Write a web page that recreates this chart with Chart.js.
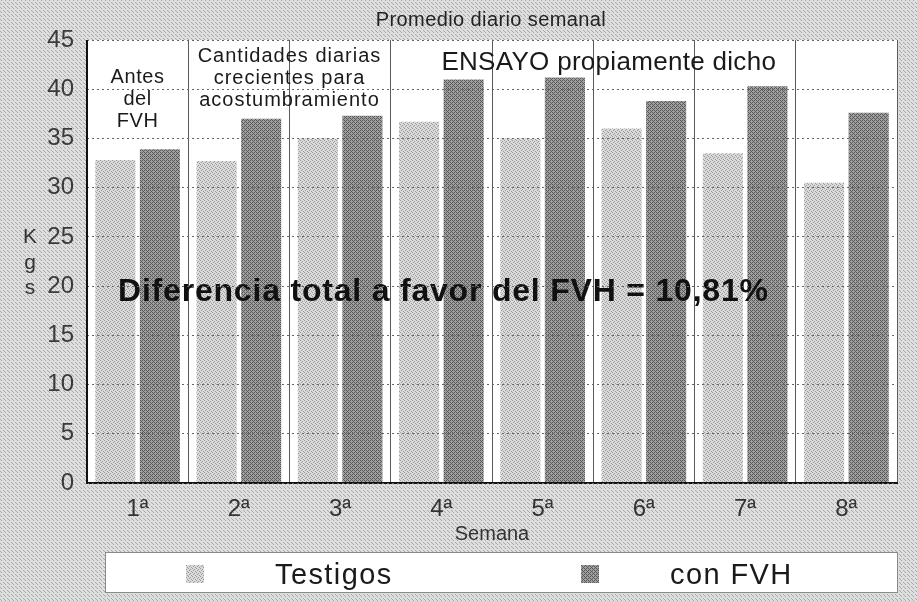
<!DOCTYPE html>
<html lang="es">
<head>
<meta charset="utf-8">
<title>Promedio diario semanal</title>
<script src="https://cdn.jsdelivr.net/npm/chart.js@4.4.1/dist/chart.umd.min.js"></script>
<style>
  html, body { margin: 0; padding: 0; background: #d4d4d4; }
  #wrap { position: relative; width: 917px; height: 601px; }
</style>
</head>
<body>
<div id="wrap"><canvas id="grafico"></canvas></div>
<script>
// Datos (kg, promedio diario por semana)
const semanas = ['1ª', '2ª', '3ª', '4ª', '5ª', '6ª', '7ª', '8ª'];
const testigos = [32.8, 32.7, 35.0, 36.7, 35.0, 36.0, 33.5, 30.5];
const conFVH = [33.9, 37.0, 37.3, 41.0, 41.2, 38.8, 40.3, 37.6];
const kgTicks = [0, 5, 10, 15, 20, 25, 30, 35, 40, 45];

const FUENTE = '"Liberation Sans", Arial, sans-serif';
Chart.defaults.font.family = FUENTE;

// tramas tipo fotocopia
function trama(base, punto, celdas) {
    const c = document.createElement('canvas');
    c.width = 4; c.height = 4;
    const g = c.getContext('2d');
    g.fillStyle = base;
    g.fillRect(0, 0, 4, 4);
    g.fillStyle = punto;
    celdas.forEach(([x, y]) => g.fillRect(x, y, 1, 1));
    return g.createPattern(c, 'repeat');
}
const tramaTestigos = trama('#dadada', '#9a9a9a', [[0, 0], [2, 1], [1, 2], [3, 3]]);
const tramaFVH = trama('#a0a0a0', '#585858', [[0, 0], [1, 1], [2, 2], [3, 3], [2, 0], [0, 2]]);
const tramaFondo = trama('#dedede', '#a8a8a8', [[1, 0], [3, 2], [0, 3]]);

const decoracion = {
    id: 'decoracion',
    beforeDraw(chart) {
        const { ctx, chartArea: a, width, height } = chart;
        ctx.save();
        ctx.fillStyle = tramaFondo;
        ctx.fillRect(0, 0, width, height);
        ctx.fillStyle = '#ffffff';
        ctx.fillRect(a.left, a.top, a.right - a.left, a.bottom - a.top);
        ctx.restore();
    },
    afterDatasetsDraw(chart) {
        const { ctx, chartArea: a, scales: { x } } = chart;
        ctx.save();
        ctx.fillStyle = '#1a1a1a';
        ctx.textBaseline = 'alphabetic';

        // fases del ensayo
        ctx.textAlign = 'center';
        ctx.font = '20px ' + FUENTE;
        ctx.letterSpacing = '0.6px';
        const c0 = x.getPixelForValue(0);
        ['Antes', 'del', 'FVH'].forEach((t, i) => ctx.fillText(t, c0, a.top + 43 + i * 22));

        ctx.letterSpacing = '1px';
        const c12 = (x.getPixelForValue(1) + x.getPixelForValue(2)) / 2;
        ['Cantidades diarias', 'crecientes para', 'acostumbramiento']
            .forEach((t, i) => ctx.fillText(t, c12, a.top + 22 + i * 22));

        ctx.textAlign = 'left';
        ctx.letterSpacing = '0.3px';
        ctx.font = '26px ' + FUENTE;
        ctx.fillText('ENSAYO propiamente dicho', x.getPixelForValue(3), a.top + 30);

        ctx.font = 'bold 32px ' + FUENTE;
        ctx.letterSpacing = '0.8px';
        ctx.fillStyle = '#111';
        ctx.fillText('Diferencia total a favor del FVH = 10,81%', a.left + 31, 301);
        ctx.restore();
    },
    afterDraw(chart) {
        const { ctx, chartArea: a } = chart;
        ctx.save();

        // eje y
        ctx.strokeStyle = '#111';
        ctx.lineWidth = 2;
        ctx.beginPath();
        ctx.moveTo(a.left, a.top);
        ctx.lineTo(a.left, a.bottom + 1);
        ctx.stroke();

        ctx.fillStyle = '#222';
        ctx.textAlign = 'center';

        // título
        ctx.font = '20px ' + FUENTE;
        ctx.letterSpacing = '0.4px';
        ctx.fillText('Promedio diario semanal', 491, 26);

        // título eje y, letras apiladas
        ctx.letterSpacing = '0px';
        ctx.font = '21px ' + FUENTE;
        ctx.fillStyle = '#333';
        ['K', 'g', 's'].forEach((t, i) => ctx.fillText(t, 30, 243 + i * 25.5));

        // título eje x
        ctx.font = '20px ' + FUENTE;
        ctx.fillText('Semana', (a.left + a.right) / 2, 540);

        // leyenda
        ctx.fillStyle = '#ffffff';
        ctx.fillRect(105, 552, 792, 40);
        ctx.strokeStyle = '#8a8a8a';
        ctx.lineWidth = 1;
        ctx.strokeRect(105.5, 552.5, 792, 40);

        const items = [
            { texto: chart.data.datasets[0].label, fill: chart.data.datasets[0].backgroundColor, cx: 186, tx: 275 },
            { texto: chart.data.datasets[1].label, fill: chart.data.datasets[1].backgroundColor, cx: 581, tx: 670 }
        ];
        ctx.font = '29px ' + FUENTE;
        ctx.letterSpacing = '1.4px';
        ctx.textAlign = 'left';
        items.forEach(it => {
            ctx.fillStyle = it.fill;
            ctx.fillRect(it.cx, 565, 18, 18);
            ctx.fillStyle = '#1a1a1a';
            ctx.fillText(it.texto, it.tx, 584);
        });
        ctx.restore();
    }
};

const ctx = document.getElementById('grafico').getContext('2d');
new Chart(ctx, {
    type: 'bar',
    data: {
        labels: semanas,
        datasets: [
            {
                label: 'Testigos',
                data: testigos,
                backgroundColor: tramaTestigos,
                categoryPercentage: 0.88,
                barPercentage: 0.9
            },
            {
                label: 'con FVH',
                data: conFVH,
                backgroundColor: tramaFVH,
                categoryPercentage: 0.88,
                barPercentage: 0.9
            }
        ]
    },
    options: {
        responsive: true,
        maintainAspectRatio: false,
        animation: false,
        layout: { padding: { top: 40, right: 20, left: 0, bottom: 0 } },
        plugins: {
            legend: { display: false },
            title: { display: false },
            tooltip: { enabled: false }
        },
        scales: {
            x: {
                offset: true,
                afterFit(scale) { scale.height = 118; },
                grid: { color: '#5a5a5a', lineWidth: 1, drawTicks: false, offset: true },
                border: { color: '#111', width: 2, z: 1 },
                ticks: { color: '#333', font: { size: 24 }, padding: 12 }
            },
            y: {
                min: 0,
                max: 45,
                afterFit(scale) { scale.width = 87; },
                afterBuildTicks(axis) { axis.ticks = kgTicks.map(v => ({ value: v })); },
                grid: { color: '#666', lineWidth: 1, drawTicks: false, z: 1 },
                border: { display: false, dash: [2, 3] },
                ticks: { color: '#3a3a3a', font: { size: 24 }, padding: 13 }
            }
        }
    },
    plugins: [decoracion]
});
</script>
</body>
</html>
